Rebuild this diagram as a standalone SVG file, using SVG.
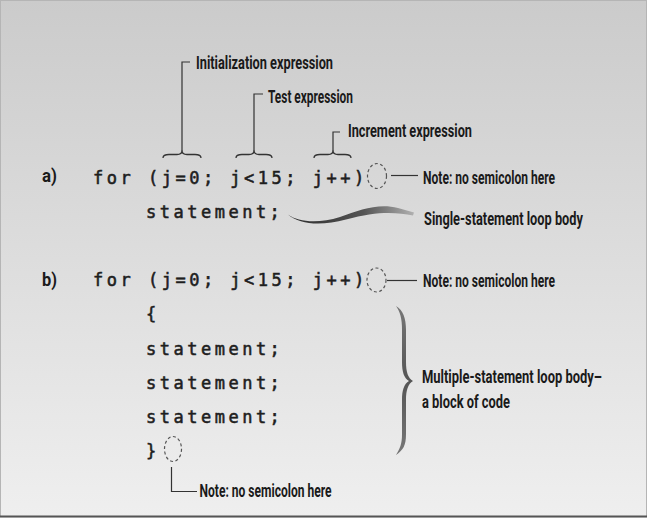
<svg xmlns="http://www.w3.org/2000/svg" width="647" height="518" viewBox="0 0 647 518">
<defs>
<linearGradient id="bg" x1="0" y1="0" x2="0" y2="1">
<stop offset="0" stop-color="#cbcbcb"/>
<stop offset="1" stop-color="#efefef"/>
</linearGradient>
<linearGradient id="sw" x1="0" y1="0" x2="1" y2="0">
<stop offset="0" stop-color="#2a2a2a"/>
<stop offset="0.6" stop-color="#555"/>
<stop offset="1" stop-color="#b0b0b0"/>
</linearGradient>
<linearGradient id="br" x1="0" y1="0" x2="0" y2="1">
<stop offset="0" stop-color="#777"/>
<stop offset="0.5" stop-color="#555"/>
<stop offset="1" stop-color="#777"/>
</linearGradient>
<style>
.code{font-family:"DejaVu Sans Mono",monospace;font-weight:normal;font-size:17px;letter-spacing:3.5px;fill:#1e1e1e;stroke:#1e1e1e;stroke-width:0.55}
.lbl{font-family:"Roboto","Liberation Sans",sans-serif;font-weight:700;font-size:18px;fill:#1a1a1a}
.ln{fill:none;stroke:#333;stroke-width:1.2}
.brace{fill:none;stroke:#333;stroke-width:1.3}
.dash{fill:none;stroke:#555;stroke-width:1.2;stroke-dasharray:3 2.5}
</style>
</defs>
<rect x="0" y="0" width="647" height="518" fill="url(#bg)"/>
<rect x="0.5" y="0.5" width="646" height="516" fill="none" stroke="#b5b5b5"/>
<line x1="0" y1="516.5" x2="647" y2="516.5" stroke="#555" stroke-width="2"/>

<g id="code-a">
<text class="lbl" transform="translate(42,182) scale(0.7,1)" textLength="21.4" lengthAdjust="spacingAndGlyphs">a)</text>
<text class="code" x="93" y="184">for (j=0; j&lt;15; j++)</text>
<text class="code" x="146" y="218">statement;</text>
</g>
<g id="code-b">
<text class="lbl" transform="translate(42,286) scale(0.7,1)" textLength="21.4" lengthAdjust="spacingAndGlyphs">b)</text>
<text class="code" x="93" y="286">for (j=0; j&lt;15; j++)</text>
<text class="code" x="146" y="320">{</text>
<text class="code" x="146" y="355">statement;</text>
<text class="code" x="146" y="389">statement;</text>
<text class="code" x="146" y="423">statement;</text>
<text class="code" x="146" y="457">}</text>
</g>

<g id="label-init"><text class="lbl" transform="translate(196,68.5) scale(0.7,1)" textLength="195.7" lengthAdjust="spacingAndGlyphs">Initialization expression</text></g>
<g id="label-test"><text class="lbl" transform="translate(268,103) scale(0.7,1)" textLength="121.4" lengthAdjust="spacingAndGlyphs">Test expression</text></g>
<g id="label-incr"><text class="lbl" transform="translate(348,137) scale(0.7,1)" textLength="177.1" lengthAdjust="spacingAndGlyphs">Increment expression</text></g>
<g id="note-a"><text class="lbl" transform="translate(423,183.5) scale(0.7,1)" textLength="188.6" lengthAdjust="spacingAndGlyphs">Note: no semicolon here</text></g>
<g id="label-single"><text class="lbl" transform="translate(424,225) scale(0.7,1)" textLength="227.1" lengthAdjust="spacingAndGlyphs">Single-statement loop body</text></g>
<g id="note-b"><text class="lbl" transform="translate(423,286.5) scale(0.7,1)" textLength="188.6" lengthAdjust="spacingAndGlyphs">Note: no semicolon here</text></g>
<g id="label-multi">
<text class="lbl" transform="translate(422,383) scale(0.7,1)" textLength="257.1" lengthAdjust="spacingAndGlyphs">Multiple-statement loop body–</text>
<text class="lbl" transform="translate(422,408) scale(0.7,1)" textLength="125.7" lengthAdjust="spacingAndGlyphs">a block of code</text>
</g>
<g id="note-c"><text class="lbl" transform="translate(199.5,496.5) scale(0.7,1)" textLength="188.6" lengthAdjust="spacingAndGlyphs">Note: no semicolon here</text></g>

<g id="connectors">
<path class="ln" d="M182,151 V62 H190"/>
<path class="ln" d="M254,151 V94 H263"/>
<path class="ln" d="M333,151 V132 H340"/>
<path class="brace" d="M163,158 Q163,154.5 169,154.5 L177,154.5 Q182,154.5 182,150.5 Q182,154.5 187,154.5 L195,154.5 Q201,154.5 201,158"/>
<path class="brace" d="M236,158 Q236,154.5 242,154.5 L249,154.5 Q254,154.5 254,150.5 Q254,154.5 259,154.5 L266,154.5 Q272,154.5 272,158"/>
<path class="brace" d="M314,158 Q314,154.5 320,154.5 L328,154.5 Q333,154.5 333,150.5 Q333,154.5 338,154.5 L345,154.5 Q351,154.5 351,158"/>
<ellipse class="dash" cx="377" cy="176" rx="9.5" ry="12.5"/>
<line class="ln" x1="391" y1="175.5" x2="418" y2="175.5"/>
<ellipse class="dash" cx="376.5" cy="280" rx="9.5" ry="12"/>
<line class="ln" x1="387" y1="280.5" x2="417" y2="280.5"/>
<ellipse class="dash" cx="173" cy="449" rx="8.5" ry="12.5"/>
<path class="ln" d="M171.5,467 V491.5 H197"/>
<path d="M288,214.5 C298,222 318,224 340,217 C360,210 378,203 398,208 L414,212.5 L413,215.5 C396,212 376,211 346,219.5 C322,226 300,225 288,214.5 Z" fill="url(#sw)"/>
<path d="M396,306 C403,310 406,318 406,330 L406,362 C406,372 408,378 413,381 C408,384 406,390 406,400 L406,434 C406,446 403,450 396,455 C400,448 402,444 402,434 L402,400 C402,390 404,384 409,381 C404,378 402,372 402,362 L402,330 C402,318 400,312 396,306 Z" fill="url(#br)"/>
</g>
</svg>
